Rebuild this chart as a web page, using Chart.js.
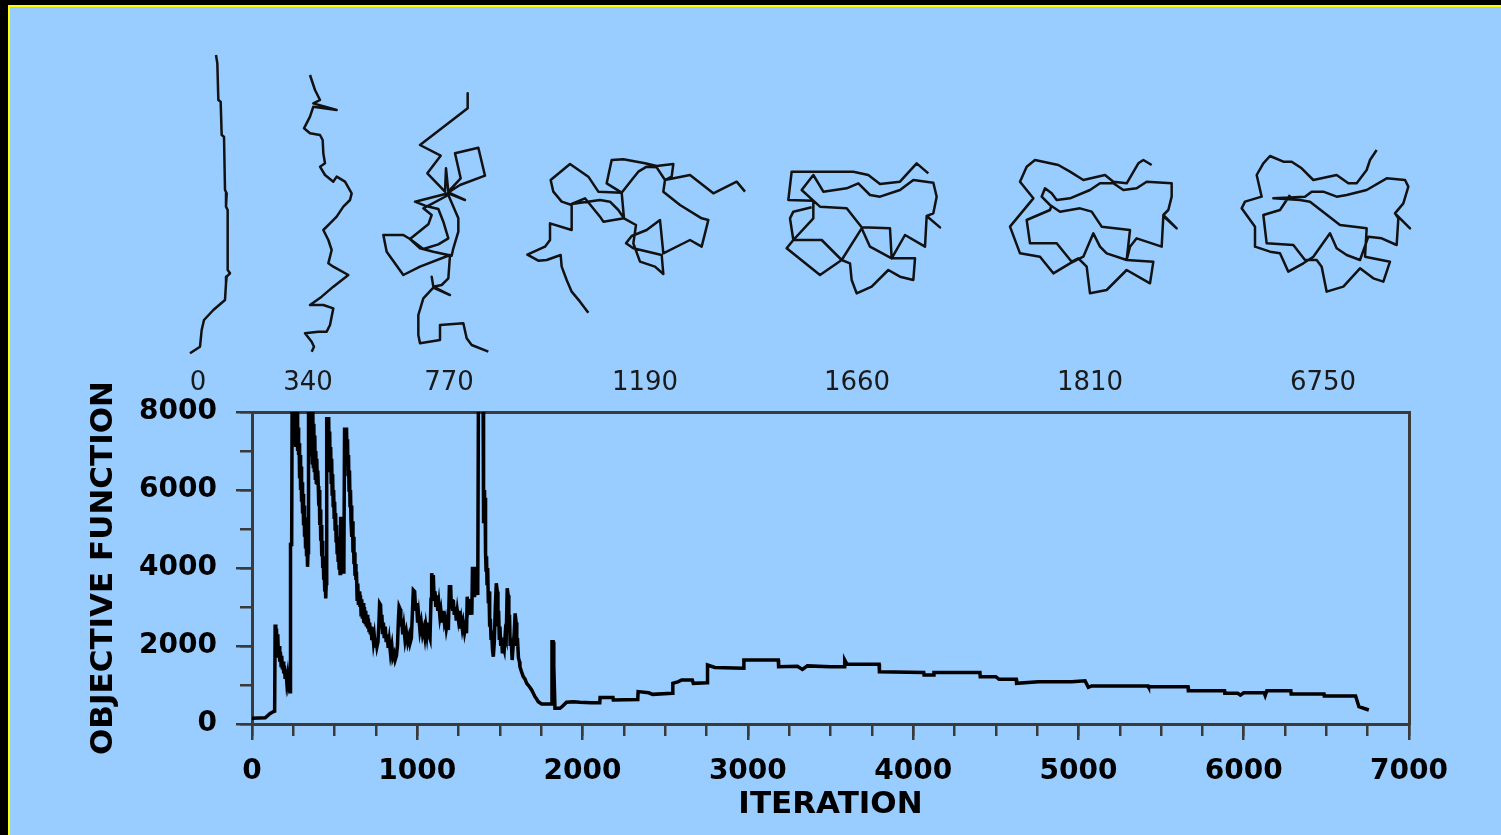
<!DOCTYPE html>
<html>
<head>
<meta charset="utf-8">
<script src="https://cdn.jsdelivr.net/npm/chart.js@4.4.0/dist/chart.umd.min.js"></script>
<style>
  html, body { margin: 0; padding: 0; background: #000; }
  body { width: 1501px; height: 835px; position: relative; overflow: hidden; }
  #panel { position: absolute; left: 8px; top: 5px; right: 0; bottom: 0;
           background: #99ccff; border-left: 2px solid #ffff00; border-top: 2px solid #ffff00; }
  canvas { position: absolute; left: 0; top: 0; }
</style>
</head>
<body>
<div id="panel"></div>
<canvas id="main" width="1501" height="835"></canvas>
<canvas id="folds" width="1501" height="400"></canvas>
<script>
// Objective function trace of the folding run (one line per stretch).
const ITERATION = [
  0,80,110,130,137,140,144,148,152,156,160,164,168,172,176,180,184,188,192,196,200,205,210,215,220,225,232,233,240,
  243,246,249,252,255,258,261,264,267,270,273,276,279,282,
  285,288,291,294,297,300,303,306,309,312,315,318,321,324,327,330,333,336,339,
  342,350,353,356,359,362,365,368,371,374,377,380,383,386,389,392,395,398,401,
  404,407,410,413,416,419,422,425,428,431,434,437,440,443,446,449,
  452,464,467,470,473,476,479,482,485,488,491,494,497,500,503,506,509,512,515,518,521,524,527,530,533,536,540,546,552,556,
  560,572,575,578,581,584,587,590,593,596,599,602,605,608,611,614,617,620,623,626,629,632,
  636,640,644,648,652,656,660,664,668,672,676,680,684,688,692,696,700,704,708,712,716,720,
  725,730,735,740,745,750,756,762,768,772,778,782,786,790,795,800,806,812,818,824,830,838,846,852,860,866,874,880,
  886,890,896,900,906,912,918,926,934,942,950,956,964,970,976,984,990,996,1002,1008,1016,1024,1032,1040,
  1046,1052,1058,1064,1070,1077,1083,1087,1093,1097,1102,1107,1112,1118,1124,1130,1137,1143,1150,1157,1164,1170,1176,1182,1188,
  1194,1202,1206,1210,1214,1218,1224,1230,1236,1242,1248,1254,1260,1266,1272,1278,1286,1292,1298,1302,1308,1314,1320,1326,
  1330,1334,1338,1342,1346,1350,1354,1358,1362,1366,1370,1398,1401,1404,1407,1410,1413,1416,1419,1422,1426,1430,1434,1438,
  1442,1446,1450,1455,1460,1466,1472,1478,1484,1488,1492,1496,1500,1505,1510,1515,1520,1526,1532,1538,1544,1550,1554,1558,
  1562,1568,1574,1580,1586,1592,1598,1602,1606,1612,1618,1621,1630,1641,1652,1662,1680,1692,1712,1722,1732,1752,
  1813,1815,1822,1826,1833,1863,1880,1903,1944,1984,2050,2104,
  2106,2184,2186,2334,2336,2400,2424,2544,2546,2580,2600,2664,2670,2754,2756,2800,2974,2976,3184,3186,
  3300,3330,3360,3500,3584,3586,3600,3794,3796,4064,4066,4124,4126,4404,4406,4500,4520,4624,4626,4759,
  4960,5040,5060,5080,5422,5424,5663,5665,5884,5886,5964,5980,6000,6124,6130,6140,6285,6287,6486,6488,6677,6697,6757];
const OBJECTIVE = [
  150,160,270,320,330,2550,2200,2450,1900,2300,1700,2000,1600,1850,1500,1750,1400,1600,1300,1500,1200,1400,1100,1250,1000,1100,830,4600,4600,
  8500,7300,8500,7150,8500,7200,8500,7100,8500,7100,8200,7000,7600,6900,
  7200,6300,6900,6000,6600,5700,6200,5400,5900,5100,5600,4800,5300,4500,5000,4300,4700,4030,4400,
  8500,8500,7000,8500,6900,8500,6700,8000,6600,7700,6500,7400,6300,7000,6200,6800,6170,6500,6100,
  5600,6000,5100,5500,4700,5100,4300,4700,4000,4300,3700,4000,3400,3700,3222,3600,
  7830,7830,6800,7500,6500,7100,6200,6800,5900,6400,5600,6000,5300,5700,5000,5400,4700,5100,4400,4800,4200,4500,4000,4300,3860,5316,3900,4200,3900,4100,
  7555,7555,6800,7300,6400,6900,6000,6500,5600,6000,5200,5600,4800,5200,4400,4800,4100,4400,3800,4100,3693,3900,
  3200,3600,3050,3400,3009,3300,2800,3200,2700,3100,2600,3000,2600,2900,2500,2800,2450,2700,2400,2600,2300,2496,
  2150,2350,2100,2250,2000,2200,1983,2100,2600,3094,3050,2500,2800,2300,2600,2200,2500,2100,2300,1950,2150,1800,2000,1700,1800,1641,1750,2000,
  2700,3009,2950,2500,2700,2300,2500,2150,2350,2100,2250,2068,2200,2800,3436,3400,2900,3100,2600,2800,2400,2600,2300,2450,
  2250,2500,2300,2600,2300,2197,3200,3863,3700,3820,3200,3400,3000,3300,2900,3100,2750,2900,2600,2900,2600,2700,2450,2600,2410,
  3521,3521,3000,3200,2900,3180,2800,3000,2650,2900,2700,2900,2450,2650,2450,2600,2350,2500,2325,3265,3000,3200,2800,3100,
  2800,4034,3300,4000,3250,4034,3300,4034,3350,3500,8500,8500,5145,6000,5145,5800,4400,3950,4300,3600,4000,3100,3400,2496,
  2700,2200,2400,1900,1726,2100,3000,3607,3400,2500,2900,2200,2500,2000,2200,1812,2000,1900,2300,2200,3480,3300,2500,2800,
  2000,2200,1640,2000,2300,2838,2600,2000,2200,1700,1600,1470,1350,1214,1150,1043,950,872,701,640,573,513,
  513,2111,2111,1470,402,402,460,560,573,560,545,545,
  680,680,615,630,830,800,760,787,1043,1085,1128,1128,1043,1060,1513,1450,1427,1641,1641,1470,
  1480,1400,1490,1470,1470,1641,1530,1530,1342,1320,1256,1256,1320,1320,1214,1214,1145,1145,1043,1085,
  1085,1110,940,975,975,958,958,855,855,787,787,740,800,800,730,855,855,769,769,718,718,444,359];

// Chain conformations shown above the plot, one per snapshot iteration.
const FOLD_LABELS = ["0", "340", "770", "1190", "1660", "1810", "6750"];
const FOLD_LABEL_X = [198, 308, 449, 645, 857, 1090, 1323];
// trace origin of each conformation; coordinates below are in 1/3-unit steps from it
const FOLD_ORIGIN = [[0, 0], [0, 0], [370, 85], [500, 130], [500, 130], [990, 130], [990, 130]];

const FOLD_0 = [[648,165],[652,190],[655,300],[662,305],[665,405],[672,410],[675,570],[680,580],
  [678,620],[683,630],[683,810],[690,820],[680,830],[678,850],[675,900],[640,930],[612,960],[605,990],
  [600,1040],[570,1060]];
const FOLD_340 = [[930,225],[935,240],[945,270],[960,300],[940,310],[1010,330],[940,320],[930,350],
  [912,385],[930,400],[960,405],[968,420],[970,460],[975,490],[960,500],[975,525],[1000,545],[1010,530],
  [1035,545],[1055,580],[1050,600],[1030,620],[1010,650],[990,670],[970,690],[985,720],[995,750],
  [985,790],[1000,800],[1045,825],[1000,860],[965,890],[930,915],[970,915],[1000,925],[990,975],
  [980,995],[955,995],[915,1000],[935,1025],[942,1040],[935,1055]];
const FOLD_770 = [[293,25],[293,70],[150,180],[212,212],[172,265],[225,320],[228,250],[235,320],
  [272,280],[255,205],[325,188],[345,272],[270,300],[235,322],[285,345],[235,325],[135,350],[165,362],
  [205,372],[220,410],[235,460],[205,478],[160,492],[120,462],[175,418],[185,390],[160,370],[235,330],
  [265,400],[265,440],[250,490],[245,512],[190,500],[150,490],[120,462],[100,450],[40,450],[50,500],
  [100,570],[150,545],[240,510],[235,580],[215,600],[190,605],[185,575],[190,605],[240,630],[190,608],
  [160,640],[145,690],[145,750],[150,775],[210,765],[210,720],[280,715],[290,760],[305,780],[355,800]];
const FOLD_1190 = [[265,548],[240,515],[215,485],[200,450],[185,410],[182,375],[140,390],[115,392],
  [82,374],[135,350],[150,330],[150,280],[215,300],[215,225],[185,215],[160,185],[152,150],[210,102],
  [265,140],[295,185],[365,188],[372,265],[310,275],[300,260],[255,205],[215,222],[300,210],[330,215],
  [355,240],[372,265],[408,285],[400,340],[420,395],[465,410],[490,432],[485,375],[400,355],[378,340],
  [395,318],[440,300],[480,270],[490,370],[540,345],[570,330],[605,350],[625,270],[605,265],[540,225],
  [490,185],[495,150],[470,112],[440,110],[415,125],[395,150],[365,188],[320,160],[335,90],[370,88],
  [435,100],[470,108],[520,102],[515,140],[495,150],[570,135],[640,190],[710,155],[735,185]];
const FOLD_1660 = [[1285,130],[1250,100],[1200,155],[1140,162],[1105,135],[1060,125],[875,125],
  [865,210],[940,212],[905,180],[940,135],[970,185],[1040,175],[1075,160],[1110,195],[1140,200],
  [1200,180],[1240,150],[1300,158],[1310,200],[1300,250],[1280,258],[1320,292],[1280,258],[1275,350],
  [1215,315],[1175,385],[1245,385],[1240,450],[1200,440],[1165,420],[1115,470],[1070,490],[1055,450],
  [1050,400],[1025,390],[965,330],[880,330],[860,355],[960,435],[1025,390],[1085,295],[1110,350],
  [1175,385],[1170,295],[1085,292],[1040,235],[960,230],[940,212],[940,265],[880,330],[870,265],
  [880,245],[935,232]];
const FOLD_1810 = [[485,105],[460,90],[445,100],[410,160],[370,155],[345,135],[280,150],[240,125],
  [205,105],[135,90],[110,110],[90,155],[130,205],[60,290],[90,370],[150,380],[190,430],[240,400],
  [280,380],[310,310],[330,350],[350,370],[410,390],[420,300],[335,290],[305,245],[270,235],[210,245],
  [180,225],[155,200],[165,175],[185,190],[200,210],[240,205],[300,180],[330,160],[370,160],[400,180],
  [440,175],[470,155],[545,160],[545,200],[535,240],[520,255],[560,295],[520,258],[515,350],[440,325],
  [420,350],[410,390],[490,395],[480,460],[410,420],[350,480],[300,490],[290,410],[265,385],[245,395],
  [200,340],[120,340],[110,270],[180,240],[185,225]];
const FOLD_6750 = [[1160,60],[1140,90],[1130,120],[1100,160],[1075,160],[1040,135],[970,150],
  [935,115],[905,95],[880,95],[840,78],[820,100],[800,135],[815,200],[765,215],[755,235],[795,290],
  [795,350],[840,365],[870,370],[895,425],[940,400],[970,380],[1020,310],[1040,355],[1070,375],
  [1110,390],[1135,320],[1175,325],[1220,345],[1225,265],[1215,250],[1260,295],[1215,250],[1240,220],
  [1255,170],[1245,150],[1190,145],[1130,180],[1070,195],[1040,200],[1000,185],[965,185],[945,200],
  [850,205],[930,210],[960,215],[1050,285],[1130,295],[1125,380],[1200,395],[1180,455],[1150,445],
  [1110,415],[1060,470],[1010,485],[995,410],[980,390],[945,390],[910,345],[830,340],[820,255],
  [870,240],[900,195]];
const FOLDS = [FOLD_0, FOLD_340, FOLD_770, FOLD_1190, FOLD_1660, FOLD_1810, FOLD_6750];

Chart.defaults.font.family = "'DejaVu Sans', sans-serif";
const AXIS = "#3a3a3a";
const fixW = (w) => (s) => { s.width = w; };
const fixH = (h) => (s) => { s.height = h; };
const plain = (v) => String(v);   // no thousands separators

// ---- main plot: objective function vs iteration ----
new Chart(document.getElementById("main"), {
  type: "line",
  data: {
    datasets: [{
      data: ITERATION.map((x, i) => ({ x, y: OBJECTIVE[i] })),
      xAxisID: "x", yAxisID: "y",
      borderColor: "#000", borderWidth: 3.5, pointRadius: 0, tension: 0,
    }],
  },
  options: {
    responsive: false, animation: false, devicePixelRatio: 1,
    layout: { padding: { left: 85, top: 412, right: 92, bottom: 11 } },
    plugins: { legend: { display: false }, tooltip: { enabled: false } },
    scales: {
      x: { type: "linear", position: "bottom", weight: 1, min: 0, max: 7000,
        ticks: { stepSize: 1000, color: "#000", padding: 15, maxRotation: 0, callback: plain,
                 font: { size: 28, weight: "bold" } },
        grid: { drawOnChartArea: false, tickLength: 16, color: AXIS, lineWidth: 2.5 },
        border: { color: AXIS, width: 3 },
        title: { display: true, text: "ITERATION", color: "#000", padding: 0,
                 font: { size: 31, weight: "bold" } },
        afterFit: fixH(100) },
      xMinor: { type: "linear", position: "bottom", weight: 0, min: 0, max: 7000,
        ticks: { stepSize: 250, display: false, autoSkip: false },
        grid: { drawOnChartArea: false, tickLength: 12, color: AXIS, lineWidth: 2.5 },
        border: { display: false }, afterFit: fixH(0) },
      xTop: { type: "linear", position: "top", min: 0, max: 7000,
        ticks: { display: false }, grid: { display: false },
        border: { color: AXIS, width: 3 }, afterFit: fixH(0) },
      y: { type: "linear", position: "left", weight: 1, min: 0, max: 8000,
        ticks: { stepSize: 2000, color: "#000", padding: 19, callback: plain,
                 font: { size: 28, weight: "bold" } },
        grid: { drawOnChartArea: false, tickLength: 16, color: AXIS, lineWidth: 2.5 },
        border: { color: AXIS, width: 3 },
        title: { display: true, text: "OBJECTIVE FUNCTION", color: "#000", padding: 0,
                 font: { size: 31, weight: "bold" } },
        afterFit: fixW(167) },
      yMinor: { type: "linear", position: "left", weight: 0, min: 0, max: 8000,
        ticks: { stepSize: 1000, display: false, autoSkip: false },
        grid: { drawOnChartArea: false, tickLength: 12, color: AXIS, lineWidth: 2.5 },
        border: { display: false }, afterFit: fixW(0) },
      yRight: { type: "linear", position: "right", min: 0, max: 8000,
        ticks: { display: false }, grid: { display: false },
        border: { color: AXIS, width: 3 }, afterFit: fixW(0) },
    },
  },
});

// ---- conformation snapshots, labelled by iteration ----
new Chart(document.getElementById("folds"), {
  type: "line",
  data: {
    datasets: FOLDS.map((pts, i) => ({
      data: pts.map(([a, b]) => ({ x: FOLD_ORIGIN[i][0] + a / 3, y: FOLD_ORIGIN[i][1] + b / 3 })),
      borderColor: "#111", borderWidth: 2.5, pointRadius: 0, tension: 0, borderJoinStyle: "round",
    })),
  },
  options: {
    responsive: false, animation: false, devicePixelRatio: 1,
    layout: { padding: 0 },
    plugins: { legend: { display: false }, tooltip: { enabled: false } },
    scales: {
      x: { type: "linear", min: 0, max: 1501,
        afterBuildTicks: (s) => { s.ticks = FOLD_LABEL_X.map((v) => ({ value: v })); },
        ticks: { autoSkip: false, maxRotation: 0, padding: 0, color: "#1a1a1a",
                 font: { size: 26 }, callback: (v, i) => FOLD_LABELS[i] },
        grid: { display: false }, border: { display: false }, afterFit: fixH(40) },
      y: { type: "linear", display: false, reverse: true, min: 0, max: 360 },
    },
  },
});
</script>
</body>
</html>
